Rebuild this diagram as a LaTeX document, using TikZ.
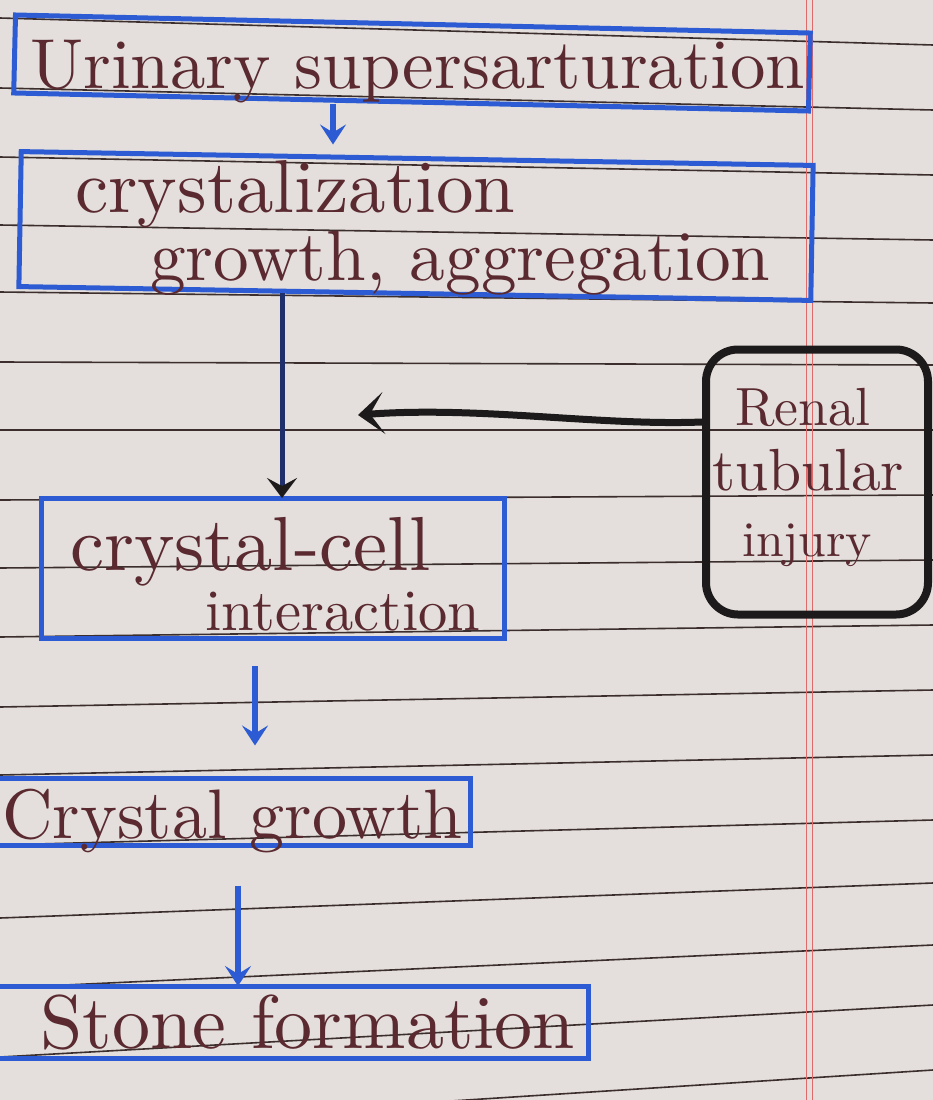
\documentclass[tikz,border=0pt]{standalone}
\usetikzlibrary{arrows.meta}
\definecolor{paper}{HTML}{E4DFDC}
\definecolor{rulec}{HTML}{3B2E2C}
\definecolor{marker}{HTML}{2C5BD3}
\definecolor{ink}{HTML}{5A2A30}
\definecolor{navy}{HTML}{1E2F6B}
\definecolor{marginred}{HTML}{E06A6A}
\definecolor{blackink}{HTML}{1C1A1A}
\newcommand\hw[2]{\resizebox{#1pt}{!}{#2}}
\begin{document}
\begin{tikzpicture}[x=1pt,y=-1pt,
  box/.style={draw=marker,line width=5pt,inner sep=0pt,outer sep=0pt},
  txt/.style={text=ink,inner sep=0pt,anchor=base west},
  rl/.style={draw=rulec,line width=1.6pt},
  barrow/.style={draw=marker,line width=6pt,-{Stealth[length=20pt,width=26pt,inset=8pt]}},
  karrow/.style={draw=blackink,line width=7pt,line cap=round,-{Stealth[length=26pt,width=42pt,inset=14pt]}},
  darrow/.style={draw=navy,line width=5pt,-{Stealth[length=20pt,width=30pt,inset=8pt,color=blackink]}}]
\useasboundingbox (0,0) rectangle (933,1100);
\clip (0,0) rectangle (933,1100);
\fill[paper] (0,0) rectangle (933,1100);
% ruled lines
\foreach \l/\r in {18/45,88/110,157/175,225/240,292/303,362/365,430/430,500/495,568/560,637/625,707/690,775/755,845/820,918/883,988/945,1057/1005,1130/1070}
  \draw[rl] (0,\l) -- (933,\r);
% margin
\draw[marginred,line width=1pt] (806,0) -- (806,1100);
\draw[marginred,line width=1pt] (812,0) -- (812,1100);

% boxes
\node[box,minimum width=795pt,minimum height=78pt,rotate=-1.3] (b1) at (412,63) {};
\node[box,minimum width=792pt,minimum height=135pt,rotate=-1.0] (b2) at (416,226) {};
\node[box,minimum width=463pt,minimum height=140pt] (b3) at (273,568) {};
\node[box,minimum width=480pt,minimum height=67pt] (b4) at (230,812) {};
\node[box,minimum width=598pt,minimum height=72pt] (b5) at (289,1022) {};
\node[draw=blackink,line width=8pt,rounded corners=32pt,minimum width=222pt,minimum height=265pt,inner sep=0pt] (r) at (817,482) {};

% texts
\node[txt] (t1) at (30,88) {\hw{775}{Urinary supersarturation}};
\node[txt] (t2a) at (75,212) {\hw{440}{crystalization}};
\node[txt] (t2b) at (150,280) {\hw{620}{growth, aggregation}};
\node[txt] (t3a) at (70,570) {\hw{360}{crystal-cell}};
\node[txt] (t3b) at (205,630) {\hw{275}{interaction}};
\node[txt] (t4) at (2,838) {\hw{460}{Crystal growth}};
\node[txt] (t5) at (40,1048) {\hw{535}{Stone formation}};
\node[txt] (r1) at (735,425) {\hw{135}{Renal}};
\node[txt] (r2) at (712,490) {\hw{192}{tubular}};
\node[txt] (r3) at (742,556) {\hw{130}{injury}};

% connectors
\coordinate (x1) at (333,0);
\coordinate (x2) at (282,0);
\coordinate (x3) at (255,0);
\coordinate (x4) at (238,0);
\coordinate (tipL) at (358,415);
\draw[barrow,shorten <=2pt,shorten >=14pt] (x1 |- b1.south) -- (x1 |- b2.north);
\draw[darrow] (x2 |- b2.south) -- (x2 |- b3.north);
\draw[karrow] ([yshift=60pt]r.west) .. controls (600,426) and (480,406) .. (tipL);
\draw[barrow,shorten <=28pt,shorten >=33pt] (x3 |- b3.south) -- (x3 |- b4.north);
\draw[barrow,shorten <=40pt] (x4 |- b4.south) -- (x4 |- b5.north);
\end{tikzpicture}
\end{document}
